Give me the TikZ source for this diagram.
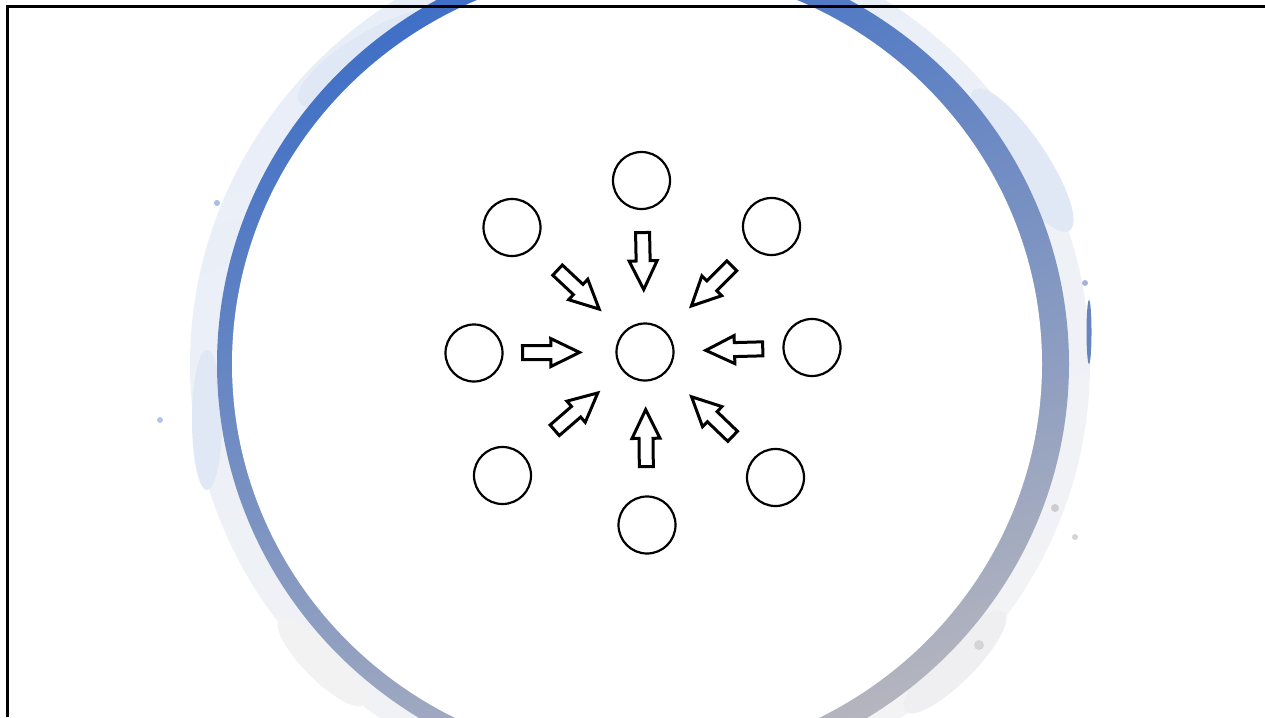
\documentclass[tikz,border=0pt]{standalone}
\usepackage{xcolor}
\usepackage{tikz}
\usetikzlibrary{shapes.arrows}

\definecolor{ringblue}{RGB}{62,110,198}
\definecolor{ringmid}{RGB}{104,132,190}
\definecolor{ringgray}{RGB}{182,182,190}

\begin{document}
\begin{tikzpicture}[x=1pt, y=-1pt,
    spot/.style={draw, circle, minimum size=57pt, line width=2.2pt,
                 fill=white, inner sep=0pt},
    inarr/.style={single arrow, draw, fill=white, line width=3pt,
                  inner sep=0pt, inner ysep=5.5pt, minimum height=57pt,
                  single arrow head extend=7pt, single arrow tip angle=52,
                  sloped, allow upside down},
    wash/.style={fill=ringblue!16}
]
\useasboundingbox (0,0) rectangle (1265,717);

% wash round the ring
\shade[top color=ringblue!12, bottom color=ringgray!16, shading angle=20]
    (640,364) ellipse [x radius=450pt, y radius=434pt];
\fill[wash] (372,58) ellipse [x radius=85pt, y radius=26pt, rotate=31];
\fill[wash] (1022,160) ellipse [x radius=85pt, y radius=24pt, rotate=-56];
\fill[wash] (207,420) ellipse [x radius=15pt, y radius=70pt];
\fill[ringgray!22] (955,662) ellipse [x radius=70pt, y radius=20pt, rotate=45];
\fill[ringgray!18] (322,662) ellipse [x radius=60pt, y radius=18pt, rotate=-45];
\fill[ringblue!45] (217,203) circle [radius=3pt];
\fill[ringblue!40] (160,420) circle [radius=3pt];
\fill[ringmid!60]  (1085,283) circle [radius=3pt];
\fill[ringgray!70] (1055,508) circle [radius=4pt];
\fill[ringgray!60] (1075,537) circle [radius=3pt];
\fill[ringgray!60] (979,645) circle [radius=5pt];
\fill[ringmid] (1089,332) ellipse [x radius=2.5pt, y radius=32pt];

% ring
\shade[top color=ringblue, middle color=ringmid, bottom color=ringgray, shading angle=20]
    (643,364) ellipse [x radius=426pt, y radius=416pt];
\fill[white] (637,364) ellipse [x radius=405pt, y radius=396pt];

% circles
\node[spot] (core) at (645,352) {};
\node[spot] (cN)  at (641.5,180.5) {};
\node[spot] (cNE) at (771.5,226.5) {};
\node[spot] (cE)  at (812,347.5) {};
\node[spot] (cSE) at (775.5,477.5) {};
\node[spot] (cS)  at (647,525) {};
\node[spot] (cSW) at (502.5,475.5) {};
\node[spot] (cW)  at (474,353) {};
\node[spot] (cNW) at (512,227.5) {};

% arrows into the core
\path (cN)  -- node[inarr, pos=0.39] (aN)  {} (core);
\path (cNE) -- node[inarr, pos=0.40] (aNE) {} (core);
\path (cE)  -- node[inarr, pos=0.38] (aE)  {} (core);
\path (cSE) -- node[inarr, pos=0.42] (aSE) {} (core);
\path (cS)  -- node[inarr, pos=0.44] (aS)  {} (core);
\path (cSW) -- node[inarr, pos=0.47] (aSW) {} (core);
\path (cW)  -- node[inarr, pos=0.36] (aW)  {} (core);
\path (cNW) -- node[inarr, pos=0.44] (aNW) {} (core);

% frame
\draw[line width=3pt] (7,717) -- (7,7) -- (1265,7);
\end{tikzpicture}
\end{document}
